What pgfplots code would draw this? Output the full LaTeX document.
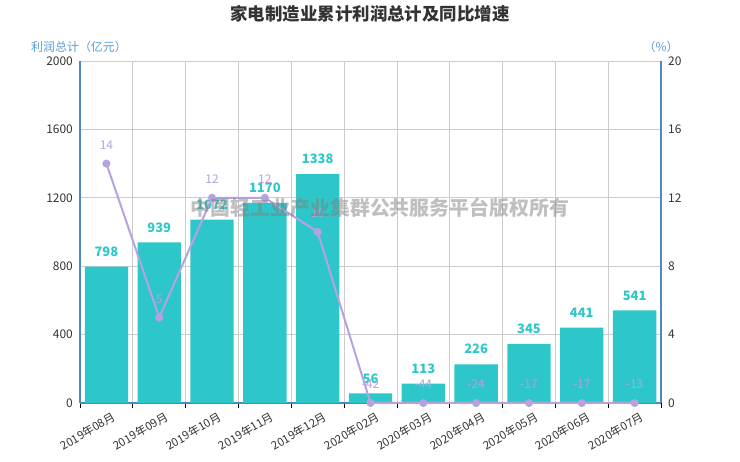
\documentclass[border=0pt]{standalone}
\usepackage{pgfplots}
\pgfplotsset{compat=1.18}
\usepackage{pgfplotstable}
\usepackage{fontspec}
\setmainfont{Noto Sans CJK SC}
\definecolor{barc}{HTML}{2EC7C9}
\definecolor{linec}{HTML}{B6A2DE}
\definecolor{axblue}{HTML}{4A89C4}
\definecolor{titblue}{HTML}{5B9BD5}
\definecolor{gridc}{HTML}{CCCCCC}
\definecolor{txt}{HTML}{333333}

\pgfplotstableread{
x v
0 798
1 939
2 1072
3 1170
4 1338
5 56
6 113
7 226
8 345
9 441
10 541
}\bars

\pgfplotstableread{
x y lab
0 14 14
1 5 5
2 12 12
3 12 12
4 10 10
5 0 -42
6 0 -44
7 0 -24
8 0 -17
9 0 -17
10 0 -13
}\growth

\begin{document}
\begin{tikzpicture}[x=1bp,y=1bp]
\path[use as bounding box] (0,0) rectangle (740,462);
\node[font=\fontsize{17.5}{20}\selectfont\bfseries, text=txt] at (370,448) {家电制造业累计利润总计及同比增速};
\node[font=\fontsize{12}{14}\selectfont, text=titblue, anchor=west, inner sep=0pt] at (31,415) {利润总计（亿元）};
\node[font=\fontsize{12}{14}\selectfont, text=titblue, inner sep=0pt] at (661,415) {（\%）};

\begin{axis}[
  at={(80bp,59bp)}, anchor=south west, scale only axis,
  width=581bp, height=342bp,
  xmin=-0.5, xmax=10.5, ymin=0, ymax=2000,
  ytick={0,400,...,2000},
  scaled y ticks=false,
  xtick={0,...,10},
  xticklabels={2019年08月,2019年09月,2019年10月,2019年11月,2019年12月,2020年02月,2020年03月,2020年04月,2020年05月,2020年06月,2020年07月},
  minor xtick={-0.5,0.5,...,10.5},
  major tick length=0pt,
  minor tick length=5bp,
  tick align=outside,
  minor x tick style={black, line width=0.8bp},
  xminorgrids=true, ymajorgrids=true,
  minor grid style={gridc, line width=0.8bp},
  major grid style={gridc, line width=0.8bp},
  axis y line*=left, axis x line*=bottom,
  axis line style={axblue, line width=2bp},
  /pgf/number format/assume math mode=true,
  yticklabel style={font=\fontsize{12}{14}\selectfont, text=txt, /pgf/number format/1000 sep={}, anchor=east, inner sep=0pt, xshift=-7bp},
  xticklabel style={font=\fontsize{11.5}{13}\selectfont, text=txt, yshift=-13bp, xshift=8bp, rotate=30, anchor=east, inner sep=0pt},
  clip=false,
]
\addplot[ybar, bar width=0.82, fill=barc, draw=none,
  nodes near coords, point meta=explicit symbolic,
  nodes near coords style={font=\fontsize{13}{15}\selectfont\bfseries, text=barc, anchor=south, inner sep=0pt, yshift=10bp}]
  table[x=x, y=v, meta=v]{\bars};
\end{axis}

\begin{axis}[
  at={(80bp,59bp)}, anchor=south west, scale only axis,
  width=581bp, height=342bp,
  xmin=-0.5, xmax=10.5, ymin=0, ymax=20,
  ytick={0,4,...,20},
  axis y line*=right, axis x line=none,
  axis line style={axblue, line width=2bp},
  major tick length=0pt,
  /pgf/number format/assume math mode=true,
  yticklabel style={font=\fontsize{12}{14}\selectfont, text=txt, anchor=west, inner sep=0pt, xshift=7bp},
  clip=false,
]
\addplot[linec, line width=2bp, mark=*, mark size=3bp, mark options={fill=linec, draw=linec},
  nodes near coords, point meta=explicit symbolic,
  nodes near coords style={font=\fontsize{12}{14}\selectfont, text=linec, anchor=south, inner sep=0pt, yshift=13bp}]
  table[x=x, y=y, meta=lab]{\growth};
\end{axis}

\node[font=\fontsize{20}{24}\selectfont\bfseries, text=gray, opacity=0.5] at (380,254) {中国轻工业产业集群公共服务平台版权所有};
\end{tikzpicture}
\end{document}
